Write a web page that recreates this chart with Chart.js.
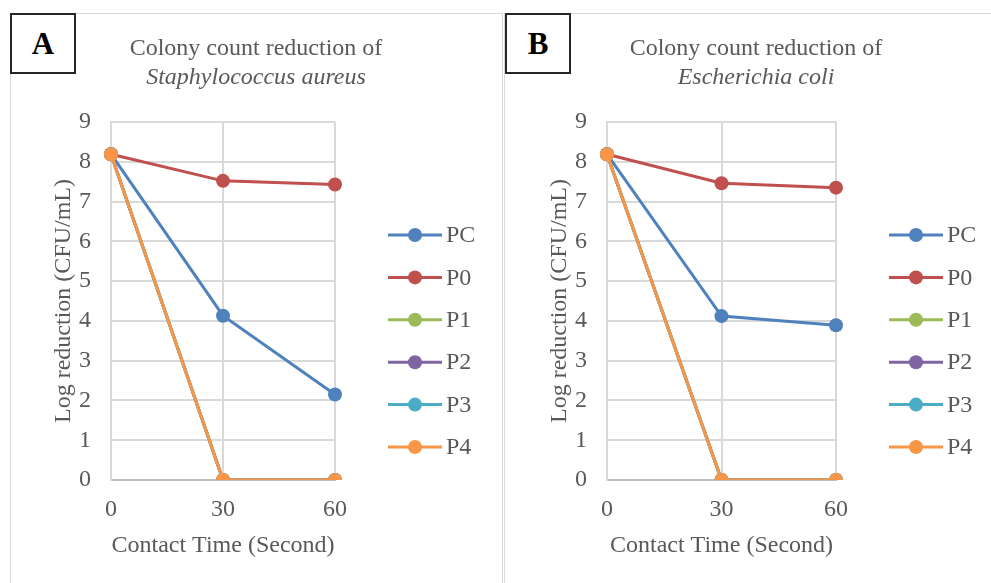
<!DOCTYPE html>
<html>
<head>
<meta charset="utf-8">
<script src="https://cdn.jsdelivr.net/npm/chart.js@4/dist/chart.umd.min.js"></script>
<style>
  html, body { margin: 0; padding: 0; background: #fff; overflow: hidden; width: 991px; height: 583px; }
  .frame { position: absolute; border: 1px solid #d9d9d9; box-sizing: border-box; }
  .tag { position: absolute; border: 2px solid #262626; box-sizing: border-box; background: #fff;
         font: bold 31px "Liberation Serif", serif; color: #000; display: flex; align-items: center; justify-content: center; z-index: 2; }
  canvas { position: absolute; }
</style>
</head>
<body>
<div class="frame" style="left:10px;top:13px;width:493px;height:620px;"></div>
<div class="frame" style="left:504px;top:13px;width:600px;height:620px;"></div>
<div class="tag" style="left:10px;top:13px;width:66px;height:61px;">A</div>
<div class="tag" style="left:505px;top:13px;width:66px;height:61px;">B</div>
<canvas id="chartA" width="490" height="569" style="left:11px;top:14px;width:490px;height:569px;"></canvas>
<canvas id="chartB" width="498" height="569" style="left:507px;top:14px;width:498px;height:569px;"></canvas>
<script>
// contact time (s)
const contactTimes = ["0", "30", "60"];
const seriesNames = ["PC", "P0", "P1", "P2", "P3", "P4"];
const seriesColors = ["#4f81bd", "#c0504d", "#9bbb59", "#8064a2", "#4bacc6", "#f79646"];

// A: Staphylococcus aureus
const staphPC = [8.19, 4.13, 2.15];
const staphP0 = [8.19, 7.52, 7.43];
const staphP1 = [8.19, 0, 0];
const staphP2 = [8.19, 0, 0];
const staphP3 = [8.19, 0, 0];
const staphP4 = [8.19, 0, 0];

// B: Escherichia coli
const coliPC = [8.19, 4.12, 3.89];
const coliP0 = [8.19, 7.46, 7.35];
const coliP1 = [8.19, 0, 0];
const coliP2 = [8.19, 0, 0];
const coliP3 = [8.19, 0, 0];
const coliP4 = [8.19, 0, 0];

const yTicks = [0, 1, 2, 3, 4, 5, 6, 7, 8, 9];

const serif = "'Liberation Serif', 'Times New Roman', serif";
const textGray = "#595959";

// two-line heading, centred on the whole panel (second line italic)
const panelTitle = {
    id: "panelTitle",
    afterDraw(chart, args, opts) {
        const ctx = chart.ctx;
        const cx = chart.width / 2;
        ctx.save();
        ctx.fillStyle = textGray;
        ctx.textAlign = "center";
        ctx.textBaseline = "middle";
        ctx.font = "24px " + serif;
        ctx.fillText("Colony count reduction of", cx, 35);
        ctx.font = "italic 24px " + serif;
        ctx.fillText(opts.species, cx, 64);
        ctx.restore();
    },
};

// legend drawn beside the plot, line + marker like Excel
const sideLegend = {
    id: "sideLegend",
    afterDraw(chart) {
        const ctx = chart.ctx;
        const area = chart.chartArea;
        const x0 = area.right + 53;
        let y = area.top + 113;
        ctx.save();
        chart.data.datasets.forEach((ds) => {
            ctx.strokeStyle = ds.borderColor;
            ctx.lineWidth = 3;
            ctx.beginPath();
            ctx.moveTo(x0, y);
            ctx.lineTo(x0 + 54, y);
            ctx.stroke();
            ctx.fillStyle = ds.backgroundColor;
            ctx.beginPath();
            ctx.arc(x0 + 27, y, 7, 0, Math.PI * 2);
            ctx.fill();
            ctx.fillStyle = textGray;
            ctx.font = "24px " + serif;
            ctx.textBaseline = "middle";
            ctx.fillText(ds.label, x0 + 58, y + 1);
            y += 42.4;
        });
        ctx.restore();
    },
};

function makeChart(id, species, values, padRight) {
    const ctx = document.getElementById(id).getContext("2d");
    const datasets = values.map((v, i) => ({
        label: seriesNames[i],
        data: v,
        borderColor: seriesColors[i],
        backgroundColor: seriesColors[i],
        borderWidth: 3,
        pointRadius: 7,
        pointHoverRadius: 7,
        pointBorderWidth: 0,
        tension: 0,
        order: values.length - i,
    }));
    return new Chart(ctx, {
        type: "line",
        data: { labels: contactTimes, datasets: datasets },
        plugins: [panelTitle, sideLegend],
        options: {
            responsive: false,
            animation: false,
            layout: { padding: { left: 38, right: padRight, bottom: 23, top: 108 } },
            plugins: {
                legend: { display: false },
                tooltip: { enabled: false },
                panelTitle: { species: species },
            },
            scales: {
                x: {
                    offset: false,
                    grid: { color: "#d9d9d9", lineWidth: 2, drawTicks: false },
                    border: { color: "#bfbfbf", width: 2 },
                    ticks: { color: textGray, font: { family: serif, size: 24 }, padding: 15 },
                    title: {
                        display: true,
                        text: "Contact Time (Second)",
                        color: textGray,
                        font: { family: serif, size: 24 },
                        padding: { top: 0, bottom: 0 },
                    },
                    afterFit(scale) { scale.height = 80; },
                },
                y: {
                    min: 0,
                    max: 9,
                    afterBuildTicks(scale) { scale.ticks = yTicks.map((v) => ({ value: v })); },
                    grid: { color: "#d9d9d9", lineWidth: 2, drawTicks: false },
                    border: { color: "#d9d9d9", width: 2 },
                    ticks: { color: textGray, font: { family: serif, size: 24 }, padding: 20 },
                    title: {
                        display: true,
                        text: "Log reduction (CFU/mL)",
                        color: textGray,
                        font: { family: serif, size: 24 },
                        padding: { top: 0, bottom: 0 },
                    },
                    afterFit(scale) { scale.width = 62; },
                },
            },
        },
    });
}

makeChart("chartA", "Staphylococcus aureus",
    [staphPC, staphP0, staphP1, staphP2, staphP3, staphP4], 166);
makeChart("chartB", "Escherichia coli",
    [coliPC, coliP0, coliP1, coliP2, coliP3, coliP4], 169);
</script>
</body>
</html>
